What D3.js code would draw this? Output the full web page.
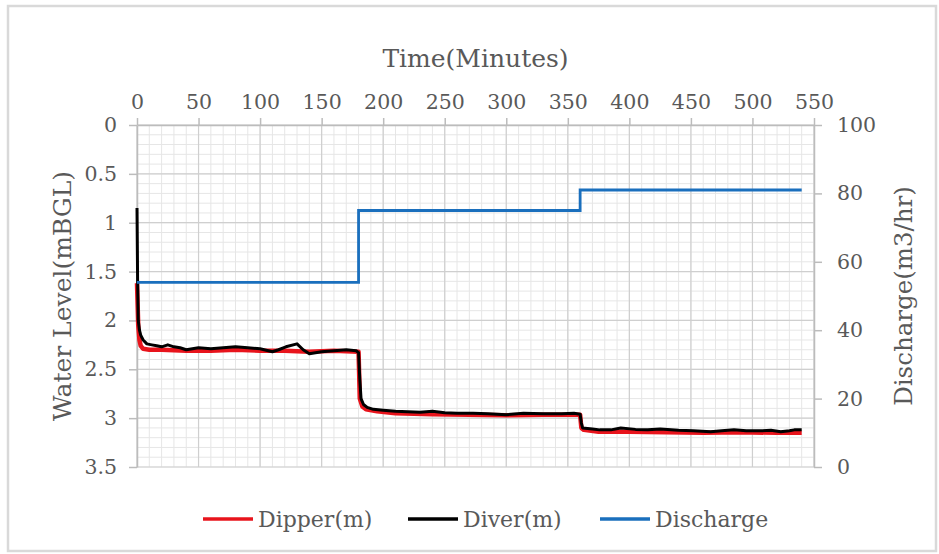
<!DOCTYPE html>
<html>
<head>
<meta charset="utf-8">
<script src="https://cdn.jsdelivr.net/npm/d3@7/dist/d3.min.js"></script>
<style>
  html, body { margin: 0; padding: 0; background: #fff; }
  svg { display: block; }
  text { font-family: "DejaVu Serif", serif; fill: #595959; }
</style>
</head>
<body>
<svg id="chart" width="939" height="554"></svg>
<script>
// Pumping test record: water level (two gauges) and pump discharge over time.
const diverTime = [0, 0.5, 1, 2, 3, 5, 8, 12, 16, 20, 25, 30, 35, 40, 45, 50, 60, 70, 80, 90, 100, 110, 115, 121, 130, 135, 140, 150, 160, 170, 178, 180,
  181, 182, 184, 187, 192, 200, 210, 220, 230, 240, 250, 260, 273, 285, 300, 314, 330, 345, 355, 360,
  361, 362, 370, 376, 385, 393, 405, 415, 425, 440, 452, 466, 475, 485, 495, 507, 515, 523, 530, 534, 540];
const diverLevel = [0.85, 1.6, 2.0, 2.1, 2.15, 2.2, 2.24, 2.25, 2.26, 2.27, 2.25, 2.27, 2.28, 2.30, 2.29, 2.28, 2.29, 2.28, 2.27, 2.28, 2.29, 2.32, 2.30, 2.27, 2.24, 2.30, 2.34, 2.32, 2.31, 2.30, 2.31, 2.33,
  2.6, 2.8, 2.86, 2.89, 2.91, 2.92, 2.93, 2.935, 2.94, 2.93, 2.945, 2.95, 2.95, 2.955, 2.965, 2.95, 2.955, 2.955, 2.95, 2.96,
  3.05, 3.10, 3.11, 3.12, 3.12, 3.10, 3.115, 3.12, 3.11, 3.125, 3.13, 3.14, 3.13, 3.12, 3.13, 3.13, 3.125, 3.14, 3.13, 3.12, 3.12];

const dipperTime = [0, 1, 2, 3, 5, 10, 20, 40, 60, 80, 100, 120, 140, 160, 180,
  181, 183, 186, 195, 210, 240, 270, 300, 330, 360,
  361, 363, 375, 400, 430, 460, 490, 520, 540];
const dipperLevel = [1.62, 2.05, 2.2, 2.26, 2.29, 2.3, 2.3, 2.31, 2.31, 2.3, 2.31, 2.31, 2.32, 2.31, 2.32,
  2.8, 2.88, 2.91, 2.93, 2.95, 2.96, 2.965, 2.97, 2.965, 2.965,
  3.1, 3.12, 3.14, 3.14, 3.145, 3.15, 3.145, 3.15, 3.15];

const dischargeTime = [0, 180, 360, 540];
const dischargeRate = [54, 75, 81, 81];

const timeTicks = [0, 50, 100, 150, 200, 250, 300, 350, 400, 450, 500, 550];
const levelTicks = [0, 0.5, 1, 1.5, 2, 2.5, 3, 3.5];
const rateTicks = [0, 20, 40, 60, 80, 100];

const seriesNames = ["Dipper(m)", "Diver(m)", "Discharge"];
const seriesColors = ["#e8141c", "#000000", "#1a6fbd"];

const svg = d3.select("#chart");
const plotLeft = 137, plotRight = 814, plotTop = 125, plotBottom = 467;

const x = d3.scaleLinear().domain([0, 550]).range([plotLeft, plotRight]);
const yL = d3.scaleLinear().domain([0, 3.5]).range([plotTop, plotBottom]);
const yR = d3.scaleLinear().domain([0, 100]).range([plotBottom, plotTop]);

// outer frame
svg.append("rect")
  .attr("x", 8).attr("y", 6).attr("width", 928).attr("height", 545)
  .attr("fill", "#fff").attr("stroke", "#d9d9d9").attr("stroke-width", 2.5);

// minor grid
const grid = svg.append("g");
grid.selectAll(".vmin").data(d3.range(0, 551, 10)).join("line")
  .attr("x1", d => x(d)).attr("x2", d => x(d)).attr("y1", plotTop).attr("y2", plotBottom)
  .attr("stroke", "#e6e6e6").attr("stroke-width", 1);
grid.selectAll(".hmin").data(d3.range(0, 36).map(i => i / 10)).join("line")
  .attr("x1", plotLeft).attr("x2", plotRight).attr("y1", d => yL(d)).attr("y2", d => yL(d))
  .attr("stroke", "#e6e6e6").attr("stroke-width", 1);
// major grid
grid.selectAll(".vmaj").data(timeTicks).join("line")
  .attr("x1", d => x(d)).attr("x2", d => x(d)).attr("y1", plotTop).attr("y2", plotBottom)
  .attr("stroke", "#cfcfcf").attr("stroke-width", 1.2);
grid.selectAll(".hmaj").data(levelTicks).join("line")
  .attr("x1", plotLeft).attr("x2", plotRight).attr("y1", d => yL(d)).attr("y2", d => yL(d))
  .attr("stroke", "#cfcfcf").attr("stroke-width", 1.2);

function styleAxis(g) {
  g.selectAll("path, line").attr("stroke", "#bcbcbc").attr("stroke-width", 1.5);
  g.selectAll("text").attr("fill", "#595959").style("font-family", "DejaVu Serif, serif");
}

svg.append("g").attr("transform", `translate(0,${plotTop})`)
  .call(d3.axisTop(x).tickValues(timeTicks).tickSize(7).tickPadding(9).tickSizeOuter(0))
  .call(g => g.selectAll("text").attr("font-size", 20.5))
  .call(styleAxis);

svg.append("g").attr("transform", `translate(${plotLeft},0)`)
  .call(d3.axisLeft(yL).tickValues(levelTicks).tickSize(8).tickPadding(12).tickSizeOuter(0).tickFormat(d => String(d)))
  .call(g => g.selectAll("text").attr("font-size", 20.5))
  .call(styleAxis);

svg.append("g").attr("transform", `translate(${plotRight},0)`)
  .call(d3.axisRight(yR).tickValues(rateTicks).tickSize(8).tickPadding(15).tickSizeOuter(0))
  .call(g => g.selectAll("text").attr("font-size", 20.5))
  .call(styleAxis);

// axis titles
svg.append("text").attr("x", (plotLeft + plotRight) / 2).attr("y", 67)
  .attr("text-anchor", "middle").attr("font-size", 25).text("Time(Minutes)");
svg.append("text").attr("transform", `translate(71,${(plotTop + plotBottom) / 2}) rotate(-90)`)
  .attr("text-anchor", "middle").attr("font-size", 25).text("Water Level(mBGL)");
svg.append("text").attr("transform", `translate(912,${(plotTop + plotBottom) / 2}) rotate(-90)`)
  .attr("text-anchor", "middle").attr("font-size", 24.5).text("Discharge(m3/hr)");

// series
const levelLine = d3.line().x(d => x(d[0])).y(d => yL(d[1]));
const rateLine = d3.line().x(d => x(d[0])).y(d => yR(d[1])).curve(d3.curveStepAfter);

svg.append("path").datum(dipperTime.map((t, i) => [t, dipperLevel[i]]))
  .attr("d", levelLine).attr("fill", "none")
  .attr("stroke", seriesColors[0]).attr("stroke-width", 4.5).attr("stroke-linejoin", "round");
svg.append("path").datum(diverTime.map((t, i) => [t, diverLevel[i]]))
  .attr("d", levelLine).attr("fill", "none")
  .attr("stroke", seriesColors[1]).attr("stroke-width", 3).attr("stroke-linejoin", "round");
svg.append("path").datum(dischargeTime.map((t, i) => [t, dischargeRate[i]]))
  .attr("d", rateLine).attr("fill", "none")
  .attr("stroke", seriesColors[2]).attr("stroke-width", 2.8);

// legend
const legendX = [203, 408, 600];
const legend = svg.append("g");
seriesNames.forEach((name, i) => {
  legend.append("line")
    .attr("x1", legendX[i]).attr("x2", legendX[i] + 50).attr("y1", 519).attr("y2", 519)
    .attr("stroke", seriesColors[i]).attr("stroke-width", 3.5);
  legend.append("text")
    .attr("x", legendX[i] + 55).attr("y", 527).attr("font-size", 22).text(name);
});
</script>
</body>
</html>
